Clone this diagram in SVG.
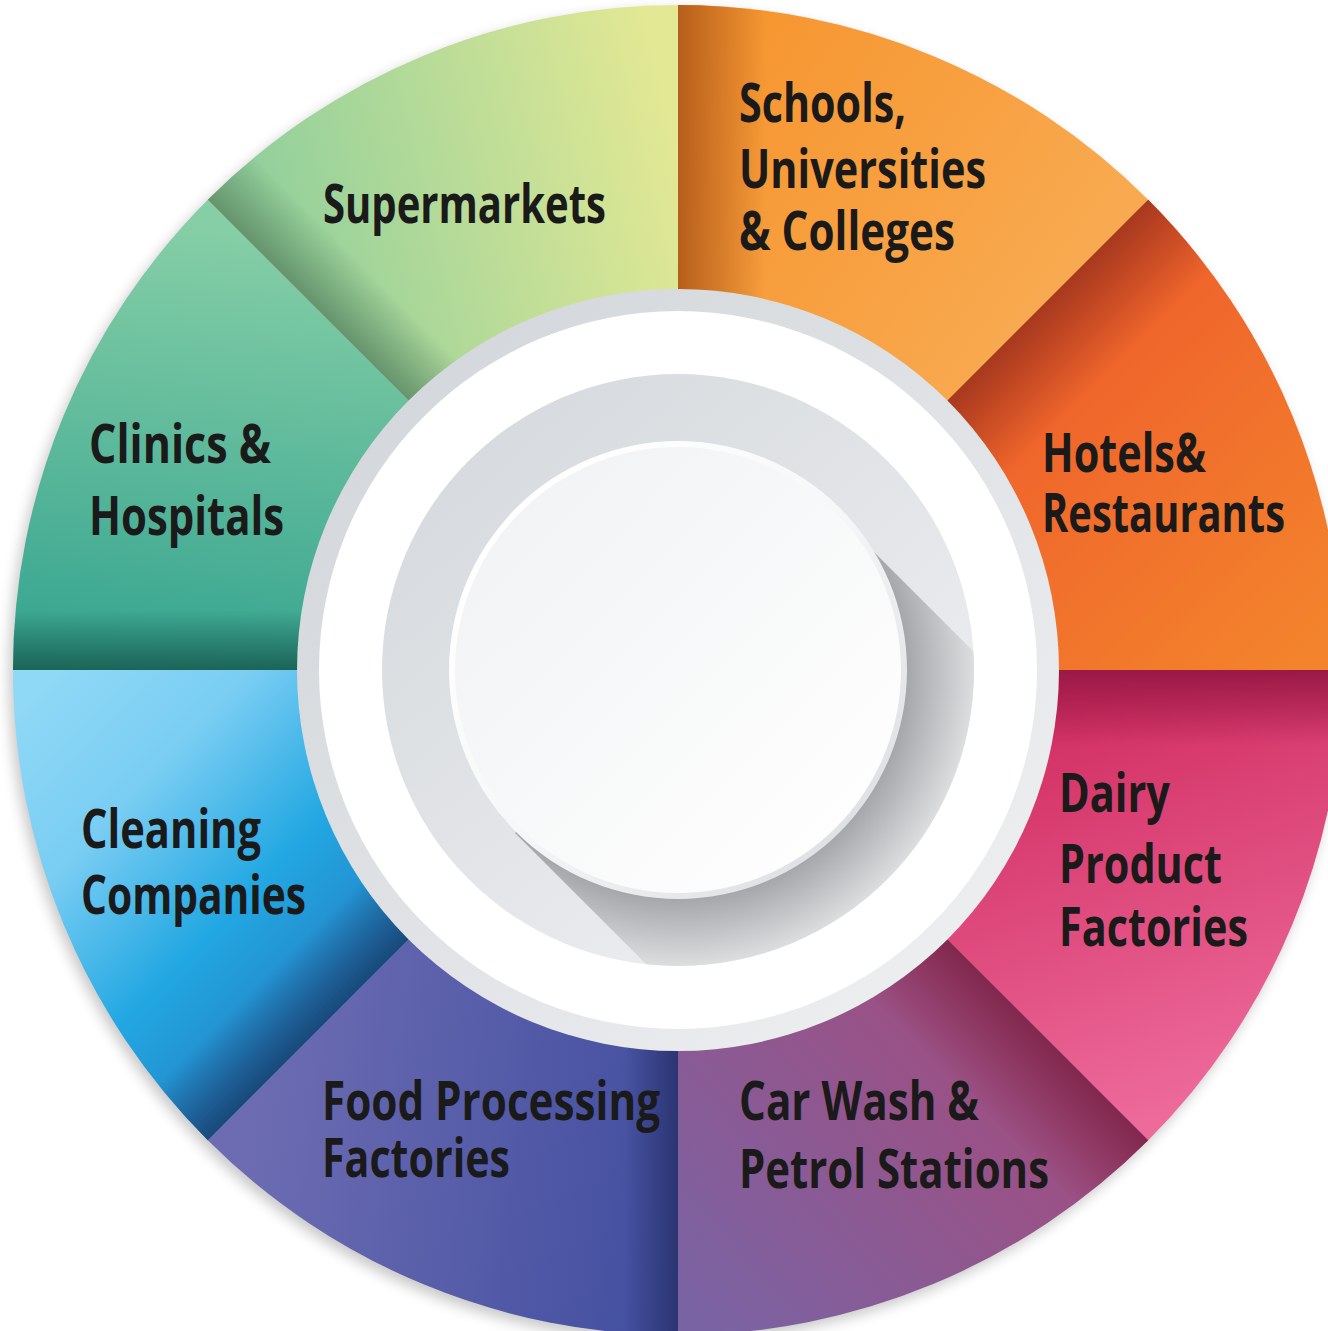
<svg xmlns="http://www.w3.org/2000/svg" width="1328" height="1331" viewBox="0 0 1328 1331">
<style>
.lbl{font-family:"Open Sans","Liberation Sans",sans-serif;font-weight:700;font-size:53px;fill:#1b1a1a}
</style>
<defs>
<filter id="outerShadow" x="-10%" y="-10%" width="120%" height="120%"><feGaussianBlur stdDeviation="7"/></filter>
<linearGradient id="gSchools" gradientUnits="userSpaceOnUse" x1="678" y1="100" x2="1100" y2="400"><stop offset="0" stop-color="#f6952f"/><stop offset="1" stop-color="#f9ae57"/></linearGradient>
<linearGradient id="sSchools" gradientUnits="userSpaceOnUse" x1="678" y1="0" x2="765" y2="0"><stop offset="0" stop-color="#b65f1c" stop-opacity="1"/><stop offset="1" stop-color="#b65f1c" stop-opacity="0"/></linearGradient>
<linearGradient id="gHotels" gradientUnits="userSpaceOnUse" x1="960" y1="300" x2="1300" y2="660"><stop offset="0" stop-color="#ee592b"/><stop offset="1" stop-color="#f3832c"/></linearGradient>
<linearGradient id="sHotels" gradientUnits="userSpaceOnUse" x1="913" y1="435" x2="980" y2="502"><stop offset="0" stop-color="#a8391e" stop-opacity="1"/><stop offset="1" stop-color="#a8391e" stop-opacity="0"/></linearGradient>
<linearGradient id="gDairy" gradientUnits="userSpaceOnUse" x1="1000" y1="680" x2="1150" y2="1120"><stop offset="0" stop-color="#cf285c"/><stop offset="1" stop-color="#ed6a9b"/></linearGradient>
<linearGradient id="sDairy" gradientUnits="userSpaceOnUse" x1="0" y1="670" x2="0" y2="745"><stop offset="0" stop-color="#9a1946" stop-opacity="1"/><stop offset="1" stop-color="#9a1946" stop-opacity="0"/></linearGradient>
<linearGradient id="gCar" gradientUnits="userSpaceOnUse" x1="1100" y1="960" x2="700" y2="1320"><stop offset="0" stop-color="#ab4876"/><stop offset="1" stop-color="#7a63a3"/></linearGradient>
<linearGradient id="sCar" gradientUnits="userSpaceOnUse" x1="913" y1="905" x2="845" y2="973"><stop offset="0" stop-color="#82284e" stop-opacity="1"/><stop offset="1" stop-color="#82284e" stop-opacity="0"/></linearGradient>
<linearGradient id="gFood" gradientUnits="userSpaceOnUse" x1="250" y1="1100" x2="678" y2="1160"><stop offset="0" stop-color="#6d6cb2"/><stop offset="1" stop-color="#424fa0"/></linearGradient>
<linearGradient id="sFood" gradientUnits="userSpaceOnUse" x1="678" y1="0" x2="625" y2="0"><stop offset="0" stop-color="#2b3572" stop-opacity="1"/><stop offset="1" stop-color="#2b3572" stop-opacity="0"/></linearGradient>
<linearGradient id="gClean" gradientUnits="userSpaceOnUse" x1="40" y1="690" x2="400" y2="1040"><stop offset="0" stop-color="#8fd8f6"/><stop offset="0.28" stop-color="#79cdf3"/><stop offset="0.58" stop-color="#22a7e2"/><stop offset="1" stop-color="#2670b6"/></linearGradient>
<linearGradient id="sClean" gradientUnits="userSpaceOnUse" x1="443" y1="905" x2="390" y2="852"><stop offset="0" stop-color="#19497a" stop-opacity="1"/><stop offset="1" stop-color="#19497a" stop-opacity="0"/></linearGradient>
<linearGradient id="gClin" gradientUnits="userSpaceOnUse" x1="200" y1="230" x2="150" y2="670"><stop offset="0" stop-color="#85cea6"/><stop offset="1" stop-color="#35a490"/></linearGradient>
<linearGradient id="sClin" gradientUnits="userSpaceOnUse" x1="0" y1="670" x2="0" y2="610"><stop offset="0" stop-color="#1c6458" stop-opacity="1"/><stop offset="1" stop-color="#1c6458" stop-opacity="0"/></linearGradient>
<linearGradient id="gSuper" gradientUnits="userSpaceOnUse" x1="260" y1="260" x2="678" y2="160"><stop offset="0" stop-color="#8fcf9c"/><stop offset="1" stop-color="#e2e894"/></linearGradient>
<linearGradient id="sSuper" gradientUnits="userSpaceOnUse" x1="443" y1="435" x2="488" y2="390"><stop offset="0" stop-color="#66946d" stop-opacity="1"/><stop offset="1" stop-color="#66946d" stop-opacity="0"/></linearGradient>
<linearGradient id="gBand" gradientUnits="userSpaceOnUse" x1="400" y1="380" x2="960" y2="960"><stop offset="0" stop-color="#d4d7db"/><stop offset="1" stop-color="#eceef0"/></linearGradient>
<linearGradient id="gRing" gradientUnits="userSpaceOnUse" x1="450" y1="420" x2="900" y2="920"><stop offset="0" stop-color="#d6d9dd"/><stop offset="1" stop-color="#eef0f2"/></linearGradient>
<radialGradient id="gLong" gradientUnits="userSpaceOnUse" cx="678" cy="670" r="298"><stop offset="0.76" stop-color="#a3a5a8"/><stop offset="1" stop-color="#dddfe1"/></radialGradient>
<linearGradient id="gRim" gradientUnits="userSpaceOnUse" x1="520" y1="510" x2="840" y2="830"><stop offset="0" stop-color="#ffffff"/><stop offset="0.5" stop-color="#f6f7f8"/><stop offset="1" stop-color="#dfe1e4"/></linearGradient>
<linearGradient id="gDisc" gradientUnits="userSpaceOnUse" x1="500" y1="500" x2="840" y2="840"><stop offset="0" stop-color="#f1f3f4"/><stop offset="1" stop-color="#fefefe"/></linearGradient>
<clipPath id="ringClip"><circle cx="678" cy="670" r="296"/></clipPath>
</defs>
<rect width="1328" height="1331" fill="#ffffff"/>
<circle cx="674" cy="676" r="665" fill="#000" opacity="0.22" filter="url(#outerShadow)"/>

<g id="schools">
<path d="M678,670 L678,5 A665,665 0 0 1 1148.2,199.8 Z" fill="url(#gSchools)"/>
<path d="M678,670 L678,5 A665,665 0 0 1 1148.2,199.8 Z" fill="url(#sSchools)"/>
<text class="lbl" x="739" y="122" textLength="167" lengthAdjust="spacingAndGlyphs">Schools,</text>
<text class="lbl" x="739" y="188" textLength="247" lengthAdjust="spacingAndGlyphs">Universities</text>
<text class="lbl" x="739" y="250" textLength="216" lengthAdjust="spacingAndGlyphs">&amp; Colleges</text>
</g>
<g id="hotels">
<path d="M678,670 L1148.2,199.8 A665,665 0 0 1 1343,670 Z" fill="url(#gHotels)"/>
<path d="M678,670 L1148.2,199.8 A665,665 0 0 1 1343,670 Z" fill="url(#sHotels)"/>
<text class="lbl" x="1042" y="472" textLength="164" lengthAdjust="spacingAndGlyphs">Hotels&amp;</text>
<text class="lbl" x="1042" y="532" textLength="243" lengthAdjust="spacingAndGlyphs">Restaurants</text>
</g>
<g id="dairy">
<path d="M678,670 L1343,670 A665,665 0 0 1 1148.2,1140.2 Z" fill="url(#gDairy)"/>
<path d="M678,670 L1343,670 A665,665 0 0 1 1148.2,1140.2 Z" fill="url(#sDairy)"/>
<text class="lbl" x="1059" y="812" textLength="111" lengthAdjust="spacingAndGlyphs">Dairy</text>
<text class="lbl" x="1059" y="883" textLength="163" lengthAdjust="spacingAndGlyphs">Product</text>
<text class="lbl" x="1059" y="946" textLength="189" lengthAdjust="spacingAndGlyphs">Factories</text>
</g>
<g id="carwash">
<path d="M678,670 L1148.2,1140.2 A665,665 0 0 1 678,1335 Z" fill="url(#gCar)"/>
<path d="M678,670 L1148.2,1140.2 A665,665 0 0 1 678,1335 Z" fill="url(#sCar)"/>
<text class="lbl" x="739" y="1120" textLength="240" lengthAdjust="spacingAndGlyphs">Car Wash &amp;</text>
<text class="lbl" x="739" y="1188" textLength="310" lengthAdjust="spacingAndGlyphs">Petrol Stations</text>
</g>
<g id="food">
<path d="M678,670 L678,1335 A665,665 0 0 1 207.8,1140.2 Z" fill="url(#gFood)"/>
<path d="M678,670 L678,1335 A665,665 0 0 1 207.8,1140.2 Z" fill="url(#sFood)"/>
<text class="lbl" x="322" y="1120" textLength="338" lengthAdjust="spacingAndGlyphs">Food Processing</text>
<text class="lbl" x="322" y="1177" textLength="188" lengthAdjust="spacingAndGlyphs">Factories</text>
</g>
<g id="cleaning">
<path d="M678,670 L207.8,1140.2 A665,665 0 0 1 13,670 Z" fill="url(#gClean)"/>
<path d="M678,670 L207.8,1140.2 A665,665 0 0 1 13,670 Z" fill="url(#sClean)"/>
<text class="lbl" x="81" y="848" textLength="180" lengthAdjust="spacingAndGlyphs">Cleaning</text>
<text class="lbl" x="81" y="914" textLength="225" lengthAdjust="spacingAndGlyphs">Companies</text>
</g>
<g id="clinics">
<path d="M678,670 L13,670 A665,665 0 0 1 207.8,199.8 Z" fill="url(#gClin)"/>
<path d="M678,670 L13,670 A665,665 0 0 1 207.8,199.8 Z" fill="url(#sClin)"/>
<text class="lbl" x="89" y="463" textLength="182" lengthAdjust="spacingAndGlyphs">Clinics &amp;</text>
<text class="lbl" x="89" y="535" textLength="195" lengthAdjust="spacingAndGlyphs">Hospitals</text>
</g>
<g id="supermarkets">
<path d="M678,670 L207.8,199.8 A665,665 0 0 1 678,5 Z" fill="url(#gSuper)"/>
<path d="M678,670 L207.8,199.8 A665,665 0 0 1 678,5 Z" fill="url(#sSuper)"/>
<text class="lbl" x="323" y="223" textLength="283" lengthAdjust="spacingAndGlyphs">Supermarkets</text>
</g>

<g id="connectors"></g>

<g id="hub">
<circle cx="678" cy="670" r="381" fill="url(#gBand)"/>
<circle cx="678" cy="670" r="359" fill="#ffffff"/>
<circle cx="678" cy="670" r="296" fill="url(#gRing)"/>
<polygon points="835,513 1200,878 880,1198 515,833" fill="url(#gLong)" clip-path="url(#ringClip)"/>
<circle cx="678" cy="670" r="229" fill="url(#gRim)"/>
<circle cx="678" cy="670" r="223" fill="url(#gDisc)"/>
</g>
</svg>
